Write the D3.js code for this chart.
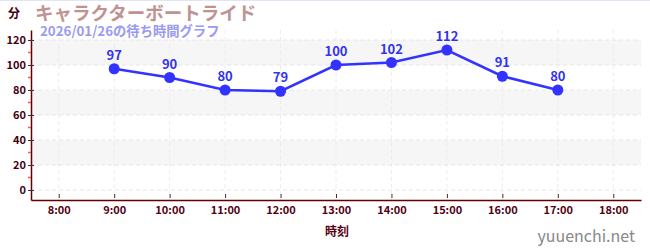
<!DOCTYPE html>
<html><head><meta charset="utf-8">
<script src="https://cdn.jsdelivr.net/npm/d3@7"></script>
<style>body{margin:0;background:#fff}svg{display:block}text{font-family:"Noto Sans CJK JP","Noto Sans",sans-serif}</style>
</head><body><svg id="c" width="650" height="250"></svg>
<script>
const hours = [9,10,11,12,13,14,15,16,17];
const waits = [97,90,80,79,100,102,112,91,80];
const xTicks = [8,9,10,11,12,13,14,15,16,17,18];
const yTicks = [0,20,40,60,80,100,120];
const title = "キャラクターボートライド";
const subtitle = "2026/01/26の待ち時間グラフ";

const svg = d3.select("#c");
const L=31, R=641, T=30, B=200;
const x = d3.scaleLinear().domain([7.5,18.5]).range([L,R]);
const y = d3.scaleLinear().domain([-8,128]).range([B,T]);

svg.append("rect").attr("x",0).attr("y",0).attr("width",650).attr("height",1).attr("fill","#e4e4f8");

// bands
[[100,120],[60,80],[20,40]].forEach(b=>{
  svg.append("rect").attr("x",L).attr("width",R-L).attr("y",y(b[1])).attr("height",y(b[0])-y(b[1])).attr("fill","#f6f6f6");
});
// grid
svg.append("g").selectAll("line").data(yTicks).join("line")
  .attr("x1",L).attr("x2",R).attr("y1",d=>y(d)).attr("y2",d=>y(d))
  .attr("stroke","#e6e6e6").attr("stroke-dasharray","4,3");
svg.append("g").selectAll("line").data(xTicks).join("line")
  .attr("y1",T).attr("y2",B).attr("x1",d=>x(d)).attr("x2",d=>x(d))
  .attr("stroke","#ececec").attr("stroke-dasharray","4,3");

// axes
const ax = svg.append("g").attr("transform",`translate(0,${B})`)
  .call(d3.axisBottom(x).tickValues(xTicks).tickFormat(d=>d+":00").tickSize(4).tickSizeOuter(0));
ax.select(".domain").attr("stroke","#660000").attr("stroke-width",1.5);
ax.selectAll(".tick line").attr("stroke","#333").attr("transform","translate(0,-6)").attr("y2",4);
ax.selectAll(".tick text").attr("fill","#550011").attr("font-size",11).attr("font-weight","bold").attr("font-family","'Open Sans',sans-serif").attr("dy","0.6em");

const ay = svg.append("g").attr("transform",`translate(${L},0)`)
  .call(d3.axisLeft(y).tickValues(yTicks).tickSize(3).tickSizeOuter(0));
ay.select(".domain").attr("stroke","#660000").attr("stroke-width",1.5);
ay.selectAll(".tick line").attr("stroke","#333").attr("x2",3).attr("x1",-3);
ay.selectAll(".tick text").attr("fill","#440011").attr("font-size",11).attr("font-weight","bold").attr("font-family","'Open Sans',sans-serif").attr("x",-5);
// minor red ticks
svg.append("g").selectAll("line").data([10,30,50,70,90,110]).join("line")
  .attr("x1",L-3).attr("x2",L).attr("y1",d=>y(d)).attr("y2",d=>y(d))
  .attr("stroke","#ee5555").attr("stroke-width",1.5);

// line
svg.append("path").datum(hours.map((h,i)=>[h,waits[i]]))
  .attr("d",d3.line().x(d=>x(d[0])).y(d=>y(d[1])))
  .attr("fill","none").attr("stroke","#3333ff").attr("stroke-width",2.5);
svg.append("g").selectAll("circle").data(waits).join("circle")
  .attr("cx",(d,i)=>x(hours[i])).attr("cy",d=>y(d)).attr("r",5.5).attr("fill","#3333ff");
svg.append("g").selectAll("text").data(waits).join("text")
  .attr("x",(d,i)=>x(hours[i])).attr("y",d=>y(d)-9).attr("text-anchor","middle")
  .attr("fill","#3333ee").attr("font-size",13).attr("font-weight","bold").attr("font-family","'Open Sans',sans-serif").text(d=>d);

// texts
svg.append("text").attr("x",35).attr("y",20).attr("fill","#c09393").attr("font-size",18.5).attr("font-weight","bold").text(title);
svg.append("text").attr("x",40).attr("y",36).attr("fill","#9a9af0").attr("font-size",13.3).attr("font-weight","bold").text(subtitle);
svg.append("text").attr("x",8).attr("y",18).attr("fill","#440011").attr("font-size",12).attr("font-weight","bold").text("分");
svg.append("text").attr("x",337).attr("y",236).attr("text-anchor","middle").attr("fill","#550011").attr("font-size",12).attr("font-weight","bold").text("時刻");
svg.append("text").attr("x",635).attr("y",242).attr("text-anchor","end").attr("fill","#888").attr("font-size",16).attr("font-family","'Open Sans',sans-serif").text("yuuenchi.net");
</script></body></html>
